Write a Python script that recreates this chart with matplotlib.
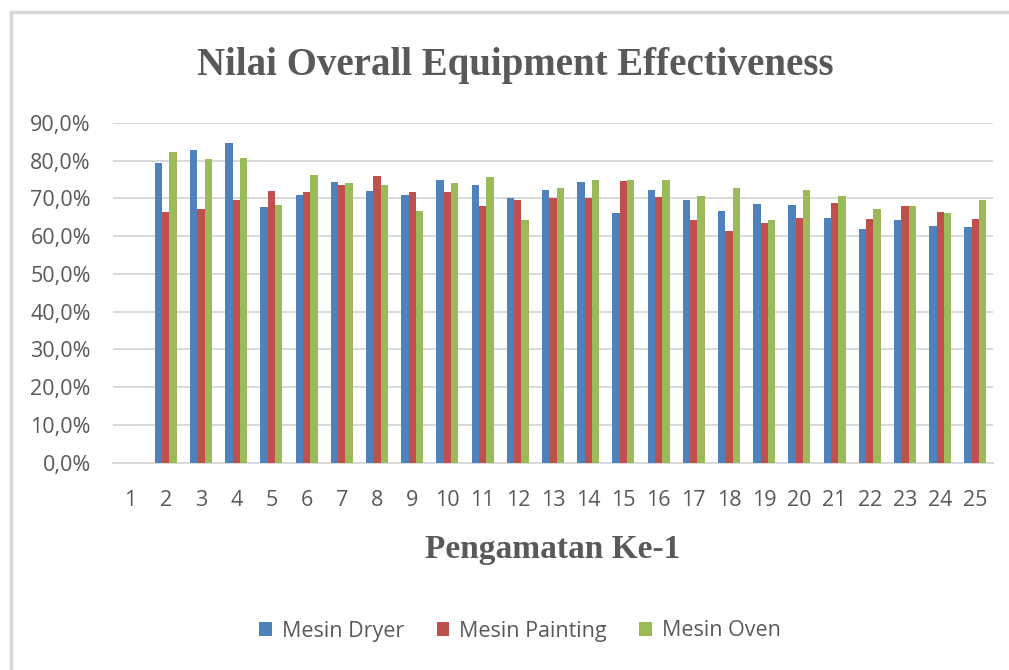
import numpy as np
import matplotlib
matplotlib.use("Agg")
import matplotlib.pyplot as plt
from matplotlib.lines import Line2D
from matplotlib.patches import Patch
from matplotlib.ticker import FuncFormatter, MultipleLocator

categories = list(range(1, 26))
dryer = [np.nan, 79.5, 82.9, 84.7, 67.7, 70.9, 74.3, 72.0, 70.9, 75.0, 73.6, 70.0, 72.2,
         74.3, 66.2, 72.2, 69.7, 66.8, 68.4, 68.2, 64.9, 62.0, 64.3, 62.6, 62.4]
painting = [np.nan, 66.4, 67.1, 69.7, 72.0, 71.6, 73.6, 76.0, 71.6, 71.6, 68.1, 69.7, 70.0,
            70.0, 74.5, 70.3, 64.3, 61.5, 63.4, 64.9, 68.8, 64.6, 68.1, 66.4, 64.6]
oven = [np.nan, 82.2, 80.5, 80.8, 68.3, 76.2, 74.1, 73.6, 66.8, 74.1, 75.8, 64.3, 72.7,
        74.9, 74.9, 74.9, 70.6, 72.9, 64.3, 72.2, 70.6, 67.1, 68.1, 66.2, 69.7]
series_names = ["Mesin Dryer", "Mesin Painting", "Mesin Oven"]
colors = ["#4f81bd", "#c0504d", "#9bbb59"]

W, H = 1009, 670
fig = plt.figure(figsize=(W / 100, H / 100), dpi=100)
fig.patch.set_facecolor("white")

ax = fig.add_axes([113 / W, 1 - 462.5 / H, 880 / W, 339.5 / H])
x = np.arange(1, len(categories) + 1)
w = 0.21
for i, (vals, c) in enumerate(zip([dryer, painting, oven], colors)):
    ax.bar(x + (i - 1) * w, vals, width=w, color=c, linewidth=0, zorder=3)

ax.set_xlim(0.5, len(categories) + 0.5)
ax.set_ylim(0, 90)
ax.yaxis.set_major_locator(MultipleLocator(10))
ax.yaxis.set_major_formatter(FuncFormatter(lambda v, p: f"{v:.1f}%".replace(".", ",")))
ax.set_xticks(x)
ax.set_xticklabels([str(c) for c in categories])
ax.grid(axis="y", color="#d9d9d9", linewidth=1.4, zorder=0)
ax.set_axisbelow(True)
for s in ["top", "right", "left"]:
    ax.spines[s].set_visible(False)
ax.spines["bottom"].set_color("#d9d9d9")
ax.spines["bottom"].set_linewidth(1.4)
ax.tick_params(axis="both", length=0, labelcolor="#595959", labelsize=15.5)
ax.tick_params(axis="y", pad=16)
ax.tick_params(axis="x", pad=20)
for lab in ax.get_xticklabels() + ax.get_yticklabels():
    lab.set_fontfamily("Open Sans")

fig.text(515 / W, 1 - 75 / H, "Nilai Overall Equipment Effectiveness", ha="center",
         va="baseline", fontsize=28, fontweight="bold", family="Liberation Serif", color="#595959")
fig.text(553 / W, 1 - 558 / H, "Pengamatan Ke-1", ha="center", va="baseline",
         fontsize=24, fontweight="bold", family="Liberation Serif", color="#595959")

handles = [Patch(facecolor=c, edgecolor="none") for c in colors]
fig.legend(handles, series_names, loc="center", bbox_to_anchor=(520 / W, 1 - 631 / H),
           ncol=3, frameon=False, handlelength=0.6, handleheight=0.6, handletextpad=0.45,
           columnspacing=1.5, prop={"family": "Open Sans", "size": 15.5}, labelcolor="#595959")

# outer chart border (left and top edges visible)
fig.add_artist(Line2D([11 / W, 11 / W], [0, 1 - 12 / H], transform=fig.transFigure,
                      color="#d9d9d9", linewidth=2.5))
fig.add_artist(Line2D([11 / W, 1], [1 - 12 / H, 1 - 12 / H], transform=fig.transFigure,
                      color="#d9d9d9", linewidth=2.5))

fig.savefig("out.png", dpi=100)
